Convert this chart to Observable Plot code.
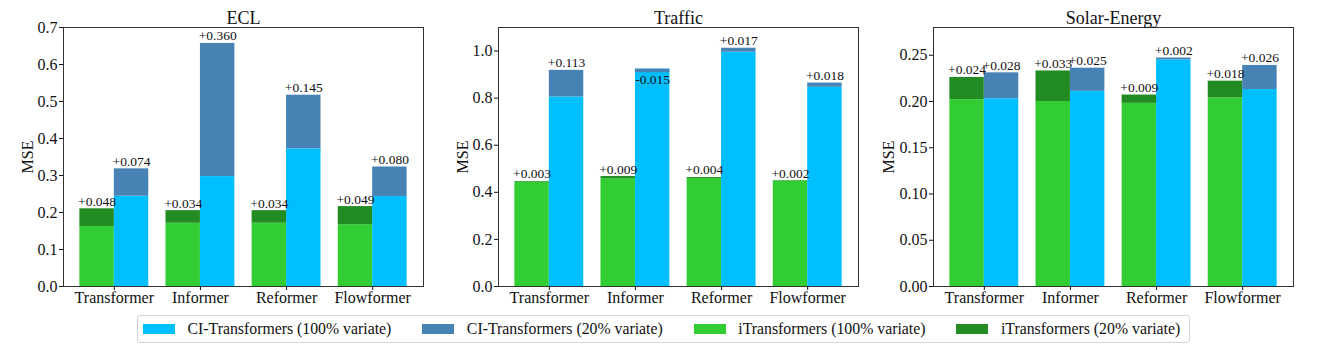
<!DOCTYPE html>
<html><head><meta charset="utf-8">
<script src="https://cdn.jsdelivr.net/npm/d3@7"></script>
<script src="https://cdn.jsdelivr.net/npm/@observablehq/plot@0.6"></script>
<style>
body{margin:0;background:#fff;font-family:"Liberation Serif","Times New Roman",serif;}
#root{position:relative;width:1321px;height:357px;overflow:hidden;}
.panel{position:absolute;top:0;}
.legend{position:absolute;left:137px;top:315px;width:1053px;height:28px;border:1px solid #d3d3d3;border-radius:3px;box-sizing:border-box;display:flex;align-items:center;padding-left:5px;font-family:"Liberation Serif","Times New Roman",serif;font-size:15.8px;color:#111;}
.item{display:flex;align-items:center;margin-right:31px;white-space:nowrap;font-family:"Liberation Serif","Times New Roman",serif;}
.sw{width:32px;height:10px;margin-right:12.5px;}
</style>
</head><body><div id="root"></div>
<script>
// ---- data ----
const models = ["Transformer", "Informer", "Reformer", "Flowformer"];
const seriesNames = ["CI-Transformers (100% variate)", "CI-Transformers (20% variate)", "iTransformers (100% variate)", "iTransformers (20% variate)"];
const seriesColors = ["#00BFFF", "#4682B4", "#32CD32", "#228B22"];

const titles = ["ECL", "Traffic", "Solar-Energy"];

const eclIBase   = [0.162, 0.171, 0.171, 0.167];
const eclIDelta  = [0.048, 0.034, 0.034, 0.049];
const eclCIBase  = [0.244, 0.297, 0.372, 0.243];
const eclCIDelta = [0.074, 0.360, 0.145, 0.080];

const trafficIBase   = [0.443, 0.458, 0.459, 0.448];
const trafficIDelta  = [0.003, 0.009, 0.004, 0.002];
const trafficCIBase  = [0.805, 0.923, 0.995, 0.846];
const trafficCIDelta = [0.113, -0.015, 0.017, 0.018];

const solarIBase   = [0.202, 0.200, 0.198, 0.204];
const solarIDelta  = [0.024, 0.033, 0.009, 0.018];
const solarCIBase  = [0.203, 0.211, 0.245, 0.213];
const solarCIDelta = [0.028, 0.025, 0.002, 0.026];

const eclTicks = [0, 0.1, 0.2, 0.3, 0.4, 0.5, 0.6, 0.7];
const trafficTicks = [0, 0.2, 0.4, 0.6, 0.8, 1.0];
const solarTicks = [0, 0.05, 0.10, 0.15, 0.20, 0.25];

// ---- drawing ----
const root = document.getElementById("root");
const BW = 0.4;
const FONT = "'Liberation Serif', 'Times New Roman', serif";

function makeRows(iBase, iDelta, ciBase, ciDelta) {
  const rows = [];
  models.forEach((m, i) => {
    rows.push({i, off: -BW, base: iBase[i], delta: iDelta[i], s100: seriesNames[2], s20: seriesNames[3]});
    rows.push({i, off: 0, base: ciBase[i], delta: ciDelta[i], s100: seriesNames[0], s20: seriesNames[1]});
  });
  return rows;
}

function panel(title, rows, yMax, ticks, fmt, left, labelOffset) {
  const x1 = d => d.i + d.off, x2 = d => d.i + d.off + BW, xc = d => d.i + d.off + BW / 2;
  const top = d => d.base + d.delta;
  const lab = d => (d.delta >= 0 ? "+" : "") + d.delta.toFixed(3);
  const chart = Plot.plot({
    width: 430, height: 310,
    marginLeft: 60, marginRight: 10, marginTop: 27, marginBottom: 24,
    style: {fontFamily: FONT, fontSize: "16px", color: "#111", background: "transparent", overflow: "visible"},
    x: {domain: [-0.59, 3.59]},
    y: {domain: [0, yMax]},
    color: {domain: seriesNames, range: seriesColors},
    marks: [
      Plot.rectY(rows, {x1, x2, y1: 0, y2: "base", fill: "s100"}),
      Plot.rectY(rows, {x1, x2, y1: "base", y2: top, fill: "s20"}),
      Plot.text(rows.filter(d => d.delta >= 0), {x: xc, y: top, text: lab, lineAnchor: "bottom", dy: -3, fontSize: 13.5, fill: "#111"}),
      Plot.text(rows.filter(d => d.delta < 0), {x: xc, y: top, text: lab, lineAnchor: "top", dy: 2, fontSize: 13.5, fill: "#111"}),
      Plot.frame({stroke: "#333"}),
      Plot.axisX({ticks: [0, 1, 2, 3], tickFormat: i => models[i], tickSize: 4, tickPadding: 1, label: null, fontSize: 16}),
      Plot.axisY({ticks, tickFormat: fmt, tickSize: 4, tickPadding: 2, label: "MSE", labelAnchor: "center", labelOffset, labelArrow: "none", fontSize: 16}),
      Plot.text([title], {frameAnchor: "top", lineAnchor: "bottom", dy: -4, fontSize: 18, fill: "#111"})
    ]
  });
  const div = document.createElement("div");
  div.className = "panel";
  div.style.left = left + "px";
  div.appendChild(chart);
  root.appendChild(div);
}

panel(titles[0], makeRows(eclIBase, eclIDelta, eclCIBase, eclCIDelta), 0.7, eclTicks, d3.format(".1f"), 3, 42);
panel(titles[1], makeRows(trafficIBase, trafficIDelta, trafficCIBase, trafficCIDelta), 1.1, trafficTicks, d3.format(".1f"), 438, 42);
panel(titles[2], makeRows(solarIBase, solarIDelta, solarCIBase, solarCIDelta), 0.28, solarTicks, d3.format(".2f"), 873, 51);

// legend
const leg = document.createElement("div");
leg.className = "legend";
seriesNames.forEach((n, k) => {
  const it = document.createElement("div");
  it.className = "item";
  const sw = document.createElement("span");
  sw.className = "sw";
  sw.style.background = seriesColors[k];
  const tx = document.createElement("span");
  tx.textContent = n;
  tx.style.fontFamily = FONT;
  it.appendChild(sw); it.appendChild(tx);
  leg.appendChild(it);
});
root.appendChild(leg);
</script>
</body></html>
